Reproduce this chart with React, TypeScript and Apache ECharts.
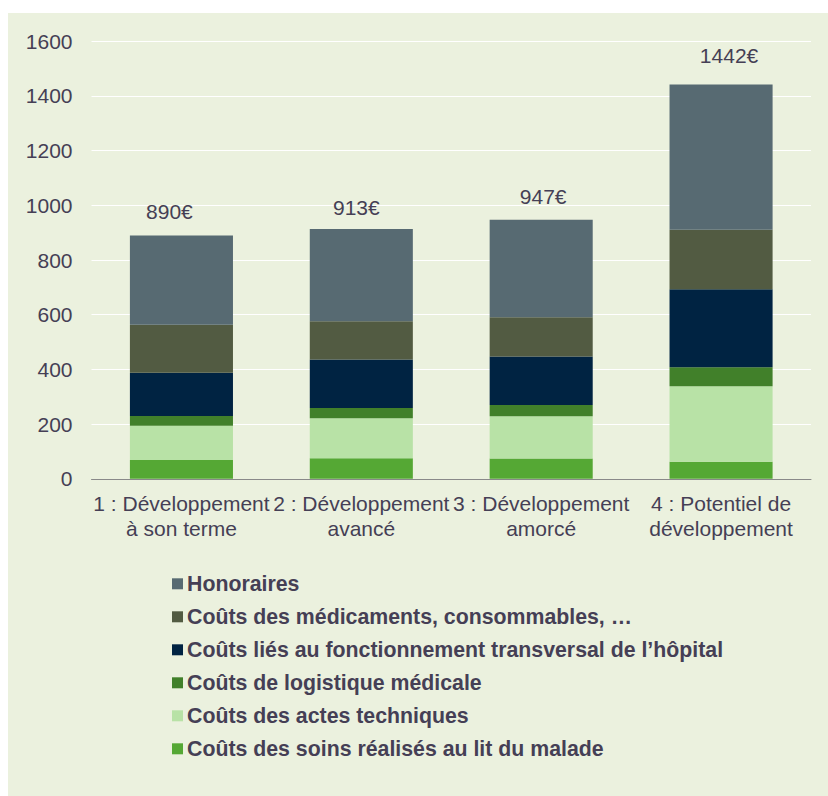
import React, { useEffect, useRef } from "react";
import * as echarts from "echarts";

const categories = [
  "1 : Développement\nà son terme",
  "2 : Développement\navancé",
  "3 : Développement\namorcé",
  "4 : Potentiel de\ndéveloppement",
];

const seriesNames = [
  "Coûts des soins réalisés au lit du malade",
  "Coûts des actes techniques",
  "Coûts de logistique médicale",
  "Coûts liés au fonctionnement transversal de l’hôpital",
  "Coûts des médicaments, consommables, …",
  "Honoraires",
];

const soins = [69, 75, 74, 62];
const actes = [125, 146, 155, 276];
const logistique = [36, 38, 41, 70];
const transversal = [158, 177, 177, 285];
const medicaments = [175, 140, 144, 218];
const honoraires = [327, 337, 356, 531];
const totals = [890, 913, 947, 1442];

const yTicks = { min: 0, max: 1600, interval: 200 };

const colors = ["#55A834", "#B8E2A6", "#41802A", "#002342", "#525B42", "#576A72"];
const labelOffsets = [
  [-12, 0],
  [-5, 2],
  [2, 0],
  [8, -5],
];

const TEXT = "#453F55";
const FONT = "'Liberation Sans', Arial, sans-serif";

export default function App() {
  const ref = useRef<HTMLDivElement>(null);

  useEffect(() => {
    if (!ref.current) return;
    const chart = echarts.init(ref.current, undefined, { renderer: "svg" });
    const values = [soins, actes, logistique, transversal, medicaments, honoraires];
    const series = values.map((vals, si) => {
      const isTop = si === values.length - 1;
      return {
        name: seriesNames[si],
        type: "bar",
        stack: "total",
        barWidth: "57.3%",
        itemStyle: { color: colors[si] },
        data: vals.map((v, i) =>
          isTop ? { value: v, label: { offset: labelOffsets[i] } } : v
        ),
        label: isTop
          ? {
              show: true,
              position: "top",
              distance: 13,
              fontSize: 21,
              fontFamily: FONT,
              color: TEXT,
              formatter: (p: any) => totals[p.dataIndex] + "€",
            }
          : { show: false },
      };
    });

    chart.setOption({
      animation: false,
      textStyle: { fontFamily: FONT },
      grid: { left: 83.5, right: 17, top: 28.2, bottom: 317.2, containLabel: false },
      xAxis: {
        type: "category",
        data: categories,
        axisLine: { show: true, lineStyle: { color: "#898989", width: 1 } },
        axisTick: { show: false },
        axisLabel: {
          interval: 0,
          fontSize: 21,
          lineHeight: 25,
          margin: 12,
          color: TEXT,
          fontFamily: FONT,
        },
      },
      yAxis: {
        type: "value",
        min: yTicks.min,
        max: yTicks.max,
        interval: yTicks.interval,
        axisLine: { show: false },
        axisTick: { show: false },
        splitLine: { show: true, lineStyle: { color: "#FFFFFF", width: 1 } },
        axisLabel: {
          fontSize: 21,
          margin: 19,
          color: TEXT,
          fontFamily: FONT,
          formatter: (v: number) => String(v),
        },
      },
      legend: {
        orient: "vertical",
        left: 164,
        top: 560.3,
        padding: 0,
        itemWidth: 11,
        itemHeight: 11,
        itemGap: 12,
        icon: "rect",
        data: [...seriesNames].reverse(),
        textStyle: {
          fontSize: 21.3,
          lineHeight: 21,
          fontWeight: "bold",
          color: TEXT,
          fontFamily: FONT,
          padding: [0, 0, 0, -1],
        },
      },
      series,
    });
    return () => chart.dispose();
  }, []);

  return (
    <div
      style={{
        position: "fixed",
        left: 8,
        top: 13,
        width: 820,
        height: 783,
        background: "#EBF1DE",
      }}
    >
      <div ref={ref} style={{ width: 820, height: 783 }} />
    </div>
  );
}
